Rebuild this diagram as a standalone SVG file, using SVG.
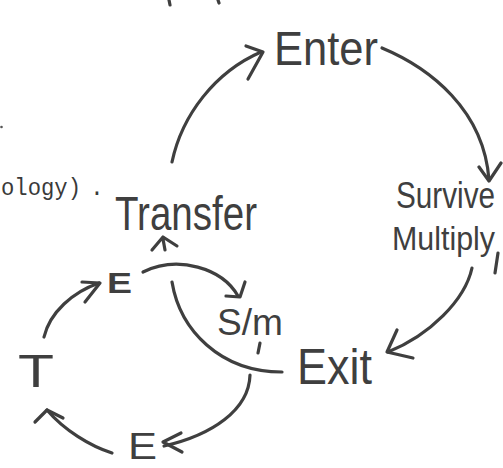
<svg xmlns="http://www.w3.org/2000/svg" width="503" height="468" viewBox="0 0 503 468">
<style>
.ink{fill:none;stroke:#3f3f3f;stroke-width:3.2;stroke-linecap:round;stroke-linejoin:round}
.hand{font-family:"Liberation Sans","DejaVu Sans",sans-serif;fill:#3f3f3f}
.type{font-family:"Liberation Mono","DejaVu Sans Mono",monospace;fill:#3a3a3a}
</style>
<rect width="503" height="468" fill="#ffffff"/>
<g id="fragments">
<path class="ink" d="M169,0 L170,5 M218,0 L219,3"/>
<circle cx="1.5" cy="127" r="1.3" fill="#555"/>
<text class="type" x="1" y="195" font-size="23" textLength="80" lengthAdjust="spacingAndGlyphs">ology)</text>
<text class="type" x="90" y="195" font-size="23">.</text>
</g>
<g id="connectors">
<path class="ink" d="M172,162 C182,115 215,72 261,52"/>
<path class="ink" d="M246,46 L263,52 L248,79"/>
<path class="ink" d="M382,48 C430,68 484,110 489,180"/>
<path class="ink" d="M479,167 L489,181 L501,163"/>
<path class="ink" d="M472,268 C465,300 430,335 388,352"/>
<path class="ink" d="M397,330 L387,352 L413,358"/>
<path class="ink" d="M250,375 C249,410 212,435 164,446"/>
<path class="ink" d="M181,433 L163,442 L182,452"/>
<path class="ink" d="M112,453 C90,446 64,430 47,410"/>
<path class="ink" d="M35,422 L47,410 L63,418"/>
<path class="ink" d="M44,337 C50,312 73,292 99,283"/>
<path class="ink" d="M82,282 L100,283 L85,302"/>
<path class="ink" d="M143,272 C178,255 222,268 238,296"/>
<path class="ink" d="M245,282 L240,297 L226,296"/>
<path class="ink" d="M172,282 C180,330 220,372 282,372"/>
<path class="ink" d="M152,250 L163,237 L177,246 M163,239 L165,250"/>
<path class="ink" d="M498,253 L495,273"/>
<path class="ink" d="M260,343 L258,353"/>
</g>
<g id="enter"><text class="hand" x="274" y="65" font-size="48" textLength="104" lengthAdjust="spacingAndGlyphs">Enter</text></g>
<g id="survive"><text class="hand" x="396" y="208" font-size="37" textLength="99" lengthAdjust="spacingAndGlyphs">Survive</text>
<text class="hand" x="392" y="250" font-size="33" textLength="103" lengthAdjust="spacingAndGlyphs">Multiply</text></g>
<g id="exit"><text class="hand" x="297" y="384" font-size="50" textLength="75" lengthAdjust="spacingAndGlyphs">Exit</text></g>
<g id="transfer"><text class="hand" x="115" y="230" font-size="48" textLength="142" lengthAdjust="spacingAndGlyphs">Transfer</text></g>
<g id="e-upper"><text class="hand" x="107" y="293" font-size="30" font-weight="bold" textLength="25" lengthAdjust="spacingAndGlyphs">E</text></g>
<g id="t"><text class="hand" x="18" y="387" font-size="47" textLength="36" lengthAdjust="spacingAndGlyphs">T</text></g>
<g id="e-lower"><text class="hand" x="128" y="459" font-size="36" textLength="29" lengthAdjust="spacingAndGlyphs">E</text></g>
<g id="sm-label"><text class="hand" x="217" y="335" font-size="37" textLength="66" lengthAdjust="spacingAndGlyphs">S/m</text></g>
</svg>
